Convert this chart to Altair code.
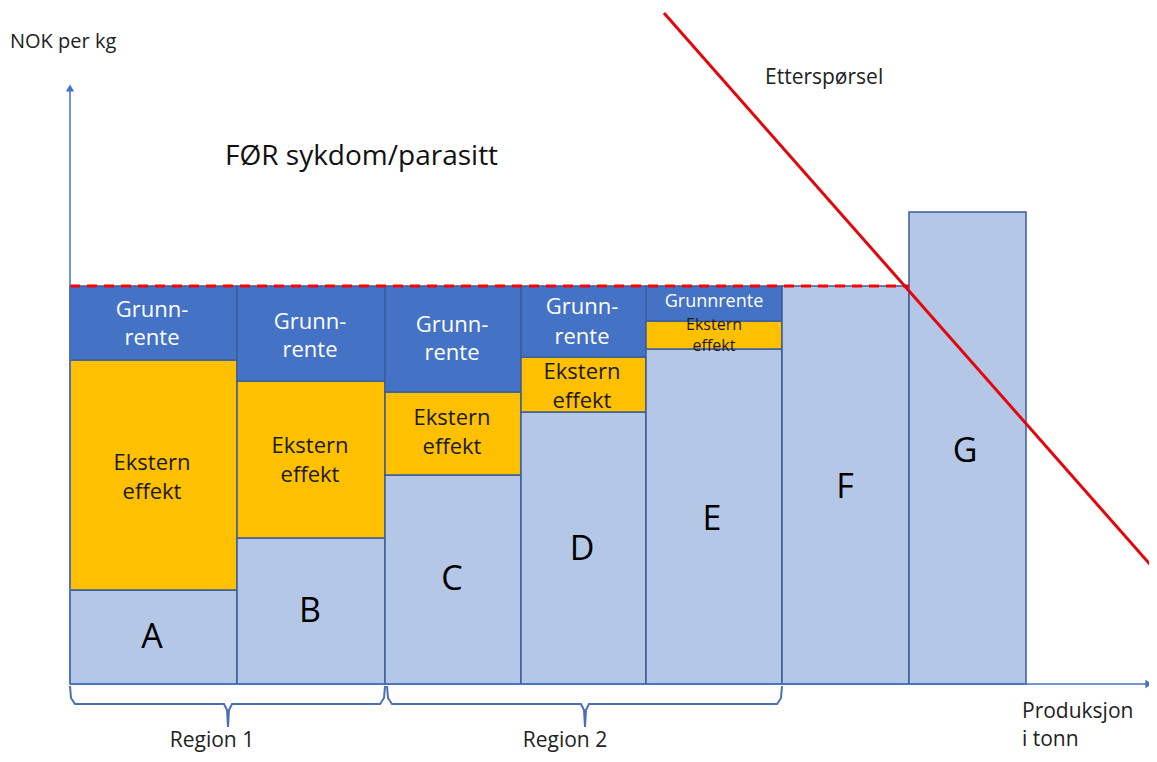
import altair as alt
import pandas as pd

# ---- data (x: produksjon, y: NOK per kg) ----
producers = ["A", "B", "C", "D", "E", "F", "G"]
x_start = [0, 167, 315, 451, 576, 712, 839]
x_end = [167, 315, 451, 576, 712, 839, 956]
cost_top = [23.5, 36.5, 52.25, 68.0, 83.75, 99.5, 118.0]
extern_top = [81.0, 75.75, 73.0, 81.75, 90.75, None, None]
price = 99.5

demand_x = [594, 1085]
demand_y = [167.75, 28.5]

regions = ["Region 1", "Region 2"]
region_start = [0, 317]
region_end = [315, 712]
region_tip = [158, 515]

# ---- build tables ----
rects = []
for i, p in enumerate(producers):
    rects.append(dict(x=x_start[i], x2=x_end[i], y=0, y2=cost_top[i], seg="kost"))
    if extern_top[i] is not None:
        rects.append(dict(x=x_start[i], x2=x_end[i], y=cost_top[i], y2=extern_top[i], seg="ekstern"))
        rects.append(dict(x=x_start[i], x2=x_end[i], y=extern_top[i], y2=price, seg="grunnrente"))
rect_df = pd.DataFrame(rects)

xs = alt.Scale(domain=[-62, 1079], nice=False, zero=False)
ys = alt.Scale(domain=[-17.5, 169], nice=False, zero=False)
X = lambda f="x": alt.X(f"{f}:Q", scale=xs, axis=None)
Y = lambda f="y": alt.Y(f"{f}:Q", scale=ys, axis=None)

bars = alt.Chart(rect_df).mark_rect(stroke="#3B5E9A", strokeWidth=1.5).encode(
    x=X(), x2="x2:Q", y=Y(), y2="y2:Q",
    color=alt.Color("seg:N", legend=None,
                    scale=alt.Scale(domain=["kost", "ekstern", "grunnrente"],
                                    range=["#B4C7E7", "#FFC000", "#4472C4"])),
)

price_df = pd.DataFrame({"x": [0], "x2": [839], "y": [price]})
price_line = alt.Chart(price_df).mark_rule(color="#FF0000", strokeWidth=3, strokeDash=[10, 7]).encode(
    x=X(), x2="x2:Q", y=Y())

demand_df = pd.DataFrame({"x": demand_x, "y": demand_y})
demand = alt.Chart(demand_df).mark_line(color="#E3060B", strokeWidth=3).encode(x=X(), y=Y())

axis_color = "#4472C4"
axes_df = pd.DataFrame([
    dict(x=0, x2=0, y=0, y2=149),
    dict(x=0, x2=1079, y=0, y2=0),
])
axes = alt.Chart(axes_df).mark_rule(color=axis_color, strokeWidth=1.5).encode(
    x=X(), x2="x2:Q", y=Y(), y2="y2:Q")
heads_df = pd.DataFrame([
    dict(x=0, y=149, shape="triangle-up"),
    dict(x=1079, y=0, shape="triangle-right"),
])
heads = alt.Chart(heads_df).mark_point(filled=True, color=axis_color, opacity=1, size=70).encode(
    x=X(), y=Y(), shape=alt.Shape("shape:N", scale=None))

# braces
brace_rows = []
for r, a, b, t in zip(regions, region_start, region_end, region_tip):
    pts = [(a, -0.5), (a + 1, -3.5), (a + 5, -5), (t - 4, -5), (t - 1, -6.5), (t, -10.75),
           (t + 1, -6.5), (t + 4, -5), (b - 5, -5), (b - 1, -3.5), (b, -0.5)]
    for k, (px, py) in enumerate(pts):
        brace_rows.append(dict(region=r, order=k, x=px, y=py))
braces = alt.Chart(pd.DataFrame(brace_rows)).mark_line(color="#4A6FB5", strokeWidth=2).encode(
    x=X(), y=Y(), detail="region:N", order="order:Q")

FONT = "Open Sans"

def text_layer(rows, size, color, font=FONT, align="center"):
    return alt.Chart(pd.DataFrame(rows)).mark_text(
        fontSize=size, color=color, font=font, align=align, baseline="middle").encode(
        x=X(), y=Y(), text="t:N")

white_labels = []
dark_labels = []
for (cx, gy1, gy2, ey1, ey2) in [(82, 93.5, 86.5, 55.25, 48.0), (240, 90.5, 83.5, 59.5, 52.25),
                                  (382, 89.75, 82.75, 66.5, 59.25), (512, 94.25, 86.75, 78.0, 70.75)]:
    white_labels += [dict(x=cx, y=gy1, t="Grunn-"), dict(x=cx, y=gy2, t="rente")]
    dark_labels += [dict(x=cx, y=ey1, t="Ekstern"), dict(x=cx, y=ey2, t="effekt")]

small_white = [dict(x=644, y=95.5, t="Grunnrente")]
small_dark = [dict(x=644, y=89.75, t="Ekstern"), dict(x=644, y=84.5, t="effekt")]

letters = [dict(x=82, y=11.5, t="A"), dict(x=240, y=18, t="B"), dict(x=382, y=26, t="C"),
           dict(x=512, y=33.5, t="D"), dict(x=642, y=41, t="E"), dict(x=775, y=49, t="F"),
           dict(x=895, y=58, t="G")]

annot_nok = [dict(x=-60, y=160.5, t="NOK per kg")]
annot_left = [dict(x=695, y=151.5, t="Etterspørsel"),
              dict(x=952, y=-7, t="Produksjon"), dict(x=952, y=-14, t="i tonn")]
region_labels = [dict(x=142, y=-14.25, t="Region 1"), dict(x=495, y=-14.25, t="Region 2")]
title = [dict(x=155, y=131.75, t="FØR sykdom/parasitt")]

chart = alt.layer(
    bars, price_line, demand, axes, heads, braces,
    text_layer(white_labels, 22, "white"),
    text_layer(dark_labels, 22, "#1a1a1a"),
    text_layer(small_white, 18, "white"),
    text_layer(small_dark, 16, "#1a1a1a"),
    text_layer(letters, 34, "black"),
    text_layer(annot_nok, 20, "#222222", align="left"),
    text_layer(annot_left, 21, "#222222", align="left"),
    text_layer(region_labels, 21, "#222222", align="center"),
    text_layer(title, 28, "#111111", align="left"),
).properties(
    width=1141, height=746, padding=0, autosize=alt.AutoSizeParams(type="none"),
).configure_view(stroke=None)

chart.save("out.html", embed_options={"renderer": "svg", "actions": False})
